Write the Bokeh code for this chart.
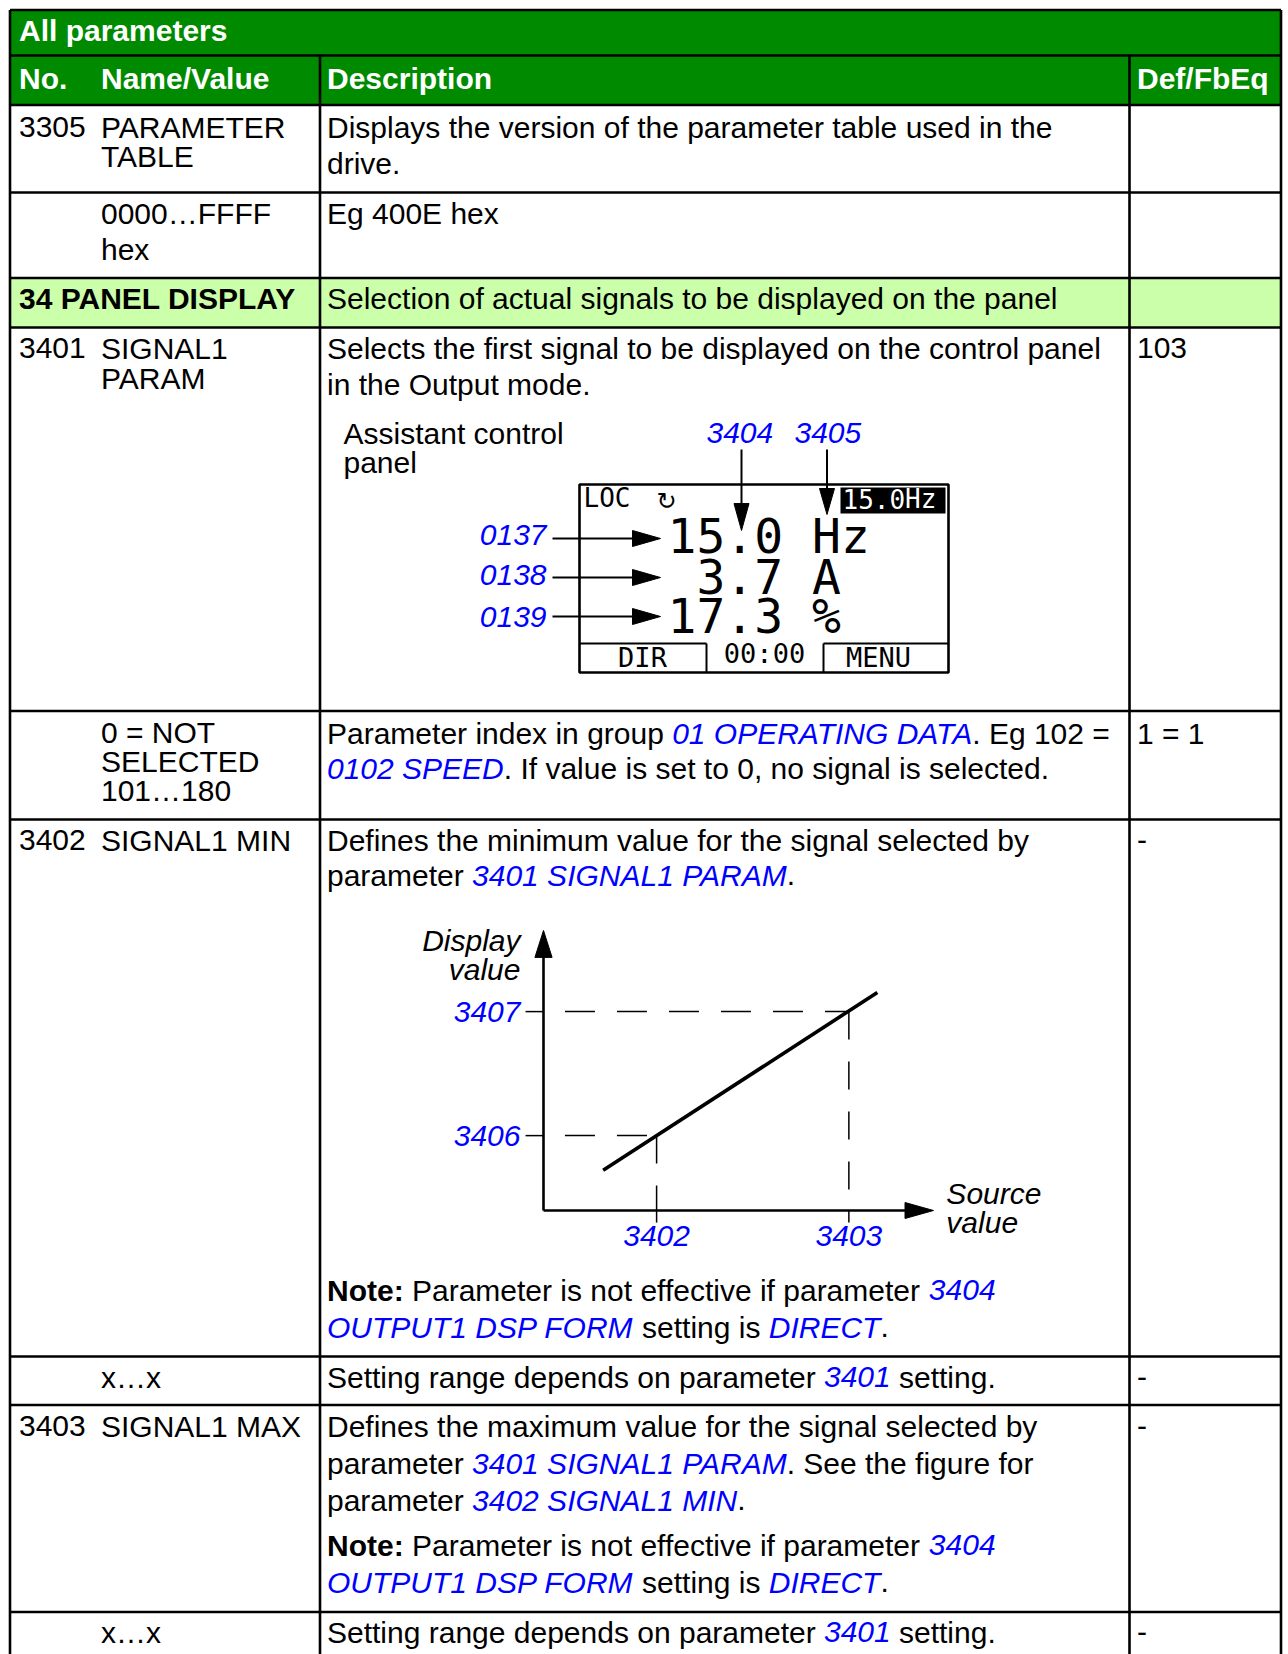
from bokeh.plotting import figure
from bokeh.models import Range1d
from bokeh.core.properties import value
from bokeh.embed import file_html
from bokeh.resources import INLINE

# ------------------------------------------------------------------ data
TITLE = "All parameters"
HEADERS = ["No.", "Name/Value", "Description", "Def/FbEq"]

param_numbers = ["3305", "", "34 PANEL DISPLAY", "3401", "", "3402", "", "3403", ""]
param_names = [["PARAMETER", "TABLE"], ["0000…FFFF", "hex"], [], ["SIGNAL1", "PARAM"],
               ["0 = NOT", "SELECTED", "101…180"], ["SIGNAL1 MIN"], ["x…x"],
               ["SIGNAL1 MAX"], ["x…x"]]
defaults = ["", "", "", "103", "1 = 1", "-", "-", "-", "-"]

NOTE = [[("b", "Note:"), ("n", " Parameter is not effective if parameter "), ("i", "3404")],
        [("i", "OUTPUT1 DSP FORM"), ("n", " setting is "), ("i", "DIRECT"), ("n", ".")]]
RANGE_TXT = [[("n", "Setting range depends on parameter "), ("i", "3401"), ("n", " setting.")]]
descriptions = [
    [[("n", "Displays the version of the parameter table used in the")], [("n", "drive.")]],
    [[("n", "Eg 400E hex")]],
    [[("n", "Selection of actual signals to be displayed on the panel")]],
    [[("n", "Selects the first signal to be displayed on the control panel")],
     [("n", "in the Output mode.")]],
    [[("n", "Parameter index in group "), ("i", "01 OPERATING DATA"), ("n", ". Eg 102 =")],
     [("i", "0102 SPEED"), ("n", ". If value is set to 0, no signal is selected.")]],
    [[("n", "Defines the minimum value for the signal selected by")],
     [("n", "parameter "), ("i", "3401 SIGNAL1 PARAM"), ("n", ".")]] + NOTE,
    RANGE_TXT,
    [[("n", "Defines the maximum value for the signal selected by")],
     [("n", "parameter "), ("i", "3401 SIGNAL1 PARAM"), ("n", ". See the figure for")],
     [("n", "parameter "), ("i", "3402 SIGNAL1 MIN"), ("n", ".")]] + NOTE,
    RANGE_TXT,
]

# control panel figure
panel_caption = ["Assistant control", "panel"]
panel_top_refs = ["3404", "3405"]
panel_signal_refs = ["0137", "0138", "0139"]
panel_lines = ["15.0 Hz", " 3.7 A", "17.3 %"]
panel_status = ["LOC", "↻"]
panel_ref_value = ["15.0", "Hz"]
panel_softkeys = ["DIR", "00:00", "MENU"]

# scaling figure (schematic, in chart units)
src_ticks = [2.9, 7.83]
src_labels = ["3402", "3403"]
disp_ticks = [1.92, 5.1]
disp_labels = ["3406", "3407"]
line_x = [1.53, 8.56]
line_y = [1.03, 5.59]
y_axis_label = ["Display", "value"]
x_axis_label = ["Source", "value"]

# ------------------------------------------------------------------ layout
GREEN = "#008a00"
LIGHT = "#ccffaa"
BLUE = "#0000ff"
SANS = "Liberation Sans"
MONO = "DejaVu Sans Mono"
FS = 30
# the svg text is drawn a little below the requested alphabetic baseline;
# shift (fraction of the font size) to compensate
SHIFT = {SANS: 0.335, MONO: 0.37, "DejaVu Sans": 0.36}

row_lines = [9.5, 55, 104.5, 192, 277.5, 327, 710.5, 819, 1356, 1404.5, 1611.5]
name_baselines = [[137, 166], [223, 259], [308], [358, 388], [742, 771, 800], [850], [1387], [1436], [1642]]
desc_baselines = [[137, 173], [223], [308], [358, 394], [743, 778], [850, 885, 1300, 1337],
                  [1387], [1436, 1473, 1510, 1555, 1592], [1642]]
X_NO, X_NAME, X_DESC, X_DEF = 18.5, 100.5, 326.5, 1136.5
X_LEFT, X_COL1, X_COL2, X_RIGHT = 9.5, 319.5, 1129, 1280.5

# Helvetica / Arial advance widths (1/1000 em)
REG = {' ': 278, '!': 278, '%': 889, '(': 333, ')': 333, ',': 278, '-': 333, '.': 278,
       '/': 278, ':': 278, '=': 584, '…': 1000}
BOLD = {' ': 278, '!': 333, '%': 889, '(': 333, ')': 333, ',': 278, '-': 333, '.': 278,
        '/': 278, ':': 333, '=': 584, '…': 1000}
for d in "0123456789":
    REG[d] = 556
    BOLD[d] = 556
UP = "ABCDEFGHIJKLMNOPQRSTUVWXYZ"
LO = "abcdefghijklmnopqrstuvwxyz"
REG.update(zip(UP, [667, 667, 722, 722, 667, 611, 778, 722, 278, 500, 667, 556, 833, 722, 778, 667,
                    778, 722, 667, 611, 722, 667, 944, 667, 667, 611]))
REG.update(zip(LO, [556, 556, 500, 556, 556, 278, 556, 556, 222, 222, 500, 222, 833, 556, 556, 556,
                    556, 333, 500, 278, 556, 500, 722, 500, 500, 500]))
BOLD.update(zip(UP, [722, 722, 722, 722, 667, 611, 778, 722, 278, 556, 722, 611, 833, 722, 778, 667,
                     778, 722, 667, 611, 722, 667, 944, 667, 667, 611]))
BOLD.update(zip(LO, [556, 611, 556, 611, 556, 333, 611, 611, 278, 278, 556, 278, 889, 611, 611, 611,
                     611, 389, 556, 333, 611, 556, 778, 556, 556, 500]))
# main Arial kerning pairs (1/1000 em)
KERN = {"AT": -74, "TA": -74, "PA": -74, "AV": -74, "AY": -74, "AW": -37, "LT": -74, "LY": -74,
        "LV": -74, "YA": -74, "VA": -74, "FA": -55, "11": -74, "T.": -111, "T,": -111,
        "P.": -129, "P,": -129, "F.": -111, "F,": -111, "Te": -111, "To": -111, "Ta": -111,
        "r.": -55, "r,": -55, "y.": -74, "y,": -74}


def text_width(s, style, size=FS):
    tab = BOLD if style == "b" else REG
    w = sum(tab.get(c, 556) for c in s)
    w += sum(KERN.get(s[k:k + 2], 0) for k in range(len(s) - 1))
    return w * size / 1000.0


def keep_spaces(s):
    """svg strips leading / trailing blanks: make them non-breaking."""
    core = s.strip(" ")
    lead = len(s) - len(s.lstrip(" "))
    trail = len(s) - len(s.rstrip(" "))
    return "\u00a0" * lead + core + "\u00a0" * trail


# ------------------------------------------------------------------ figure
W, H = 1288, 1654
p = figure(width=W, height=H, x_range=Range1d(0, W), y_range=Range1d(H, 0),
           output_backend="svg", toolbar_location=None, min_border=0,
           x_axis_location=None, y_axis_location=None)
p.grid.visible = False
p.outline_line_color = None
p.background_fill_color = "white"
p.border_fill_color = "white"

# chart coordinate system for the scaling figure (origin / unit in page pixels)
OX, OY, U = 543, 1210, 39.0
p.extra_x_ranges = {"cx": Range1d((0 - OX) / U, (W - OX) / U)}
p.extra_y_ranges = {"cy": Range1d((OY - H) / U, (OY - 0) / U)}
C = dict(x_range_name="cx", y_range_name="cy")


def txt(xs, ys, texts, size=FS, font=SANS, style="normal", color="black", align="left", chart=False):
    d = SHIFT.get(font, 0.34) * size
    if chart:
        ys = [y + d / U for y in ys]
        extra = C
    else:
        ys = [y - d for y in ys]
        extra = {}
    p.text(x=list(xs), y=ys, text=[keep_spaces(t) for t in texts], text_font=value(font),
           text_font_size=value(f"{size}px"), text_font_style=style, text_color=color,
           text_align=align, text_baseline="alphabetic", **extra)


# backgrounds
p.quad(left=[X_LEFT, X_LEFT, X_LEFT], right=[X_RIGHT] * 3,
       top=[row_lines[0], row_lines[1], row_lines[4]],
       bottom=[row_lines[1], row_lines[2], row_lines[5]],
       fill_color=[GREEN, GREEN, LIGHT], line_color=None)

# table rules
p.segment(x0=[X_LEFT] * len(row_lines), x1=[X_RIGHT] * len(row_lines), y0=row_lines, y1=row_lines,
          line_color="black", line_width=2.6)
p.segment(x0=[X_LEFT, X_RIGHT, X_COL1, X_COL2], x1=[X_LEFT, X_RIGHT, X_COL1, X_COL2],
          y0=[row_lines[0], row_lines[0], row_lines[1], row_lines[1]], y1=[1700] * 4,
          line_color="black", line_width=2.6)

# collect text runs by style
runs = {k: {"x": [], "y": [], "text": []} for k in ("n", "b", "i", "w")}


def add(style, x, y, t):
    runs[style]["x"].append(x)
    runs[style]["y"].append(y)
    runs[style]["text"].append(t)


add("w", X_NO, 40, TITLE)
for x, h in zip([X_NO, X_NAME, X_DESC, X_DEF], HEADERS):
    add("w", x, 88, h)

for r in range(len(param_numbers)):
    nb = name_baselines[r]
    if r == 2:
        add("b", X_NO, nb[0], param_numbers[r])
    elif param_numbers[r]:
        add("n", X_NO, nb[0], param_numbers[r])
    for t, y in zip(param_names[r], nb):
        add("n", X_NAME, y, t)
    if defaults[r]:
        add("n", X_DEF, desc_baselines[r][0], defaults[r])
    for line, y in zip(descriptions[r], desc_baselines[r]):
        x = X_DESC
        for style, t in line:
            add(style, x, y, t)
            x += text_width(t, style)

# ---------------- control panel illustration (page coordinates)
add("n", 343, 443, panel_caption[0])
add("n", 343, 472, panel_caption[1])
for x, t in zip([706, 794], panel_top_refs):
    add("i", x, 443, t)

arrow_y = [538, 577, 616]
txt([546] * 3, [545, 585, 627], panel_signal_refs, style="italic", color=BLUE, align="right")
p.segment(x0=[552] * 3, x1=[634] * 3, y0=arrow_y, y1=arrow_y, line_color="black", line_width=2)
p.patches(xs=[[632, 660, 632]] * 3, ys=[[y - 8, y, y + 8] for y in arrow_y],
          fill_color="black", line_color="black", line_width=1)
# vertical arrows from 3404 / 3405
p.segment(x0=[741, 826.5], x1=[741, 826.5], y0=[449, 449], y1=[505, 490], line_color="black", line_width=2)
p.patches(xs=[[733.5, 748.5, 741], [819, 834, 826.5]], ys=[[503, 503, 530], [488, 488, 514]],
          fill_color="black", line_color="black", line_width=1)
# display frame
p.quad(left=[579], right=[948], top=[484], bottom=[672], fill_color=None, line_color="black", line_width=2.6)
p.quad(left=[840], right=[945], top=[487], bottom=[513], fill_color="black", line_color=None)
p.segment(x0=[579, 706, 823, 823], x1=[706, 706, 823, 948], y0=[643, 643, 672, 643], y1=[643, 672, 643, 643],
          line_color="black", line_width=2)
txt([583], [507], [panel_status[0]], size=26, font=MONO)
txt([656], [509], [panel_status[1]], size=24, font="DejaVu Sans")
txt([842, 842 + 4 * 0.602 * 26], [508, 508], panel_ref_value, size=26, font=MONO, color="white")
txt([667] * 3, [553, 594, 633], panel_lines, size=48, font=MONO)
txt([642, 764, 878], [667, 663, 667], panel_softkeys, size=27, font=MONO, align="center")

# ---------------- scaling figure (chart units)
x_tip, y_tip = 10.0, 7.18
p.segment(x0=[0, 0], y0=[0, 0], x1=[x_tip - 0.6, 0], y1=[0, y_tip - 0.6], line_color="black",
          line_width=2.6, **C)
p.patches(xs=[[x_tip - 0.73, x_tip, x_tip - 0.73], [-0.22, 0, 0.22]],
          ys=[[-0.205, 0, 0.205], [y_tip - 0.69, y_tip, y_tip - 0.69]],
          fill_color="black", line_color="black", line_width=1, **C)
# guide lines
p.segment(x0=[0.55] * 2, x1=src_ticks, y0=disp_ticks, y1=disp_ticks, line_color="black",
          line_width=1.5, line_dash="30 22", **C)
p.segment(x0=src_ticks, x1=src_ticks, y0=disp_ticks, y1=[0, 0], line_color="black",
          line_width=1.5, line_dash="28 22", **C)
# ticks
p.segment(x0=[-0.46] * 2, x1=[0] * 2, y0=disp_ticks, y1=disp_ticks, line_color="black", line_width=1.5, **C)
p.segment(x0=src_ticks, x1=src_ticks, y0=[0] * 2, y1=[-0.31] * 2, line_color="black", line_width=1.5, **C)
# characteristic
p.line(x=line_x, y=line_y, line_color="black", line_width=3.6, **C)
# labels
txt([-0.59] * 2, [t - 0.27 for t in disp_ticks], disp_labels, style="italic", color=BLUE,
    align="right", chart=True)
txt(src_ticks, [-0.9] * 2, src_labels, style="italic", color=BLUE, align="center", chart=True)
txt([-0.59] * 2, [6.67, 5.92], y_axis_label, style="italic", align="right", chart=True)
txt([10.33] * 2, [0.19, -0.56], x_axis_label, style="italic", align="left", chart=True)

# ---------------- table texts
styles = {"n": ("normal", "black"), "b": ("bold", "black"), "i": ("italic", BLUE), "w": ("bold", "white")}
for k, (fs, col) in styles.items():
    d = runs[k]
    txt(d["x"], d["y"], d["text"], style=fs, color=col)

open("out.html", "w").write(file_html(p, INLINE))
